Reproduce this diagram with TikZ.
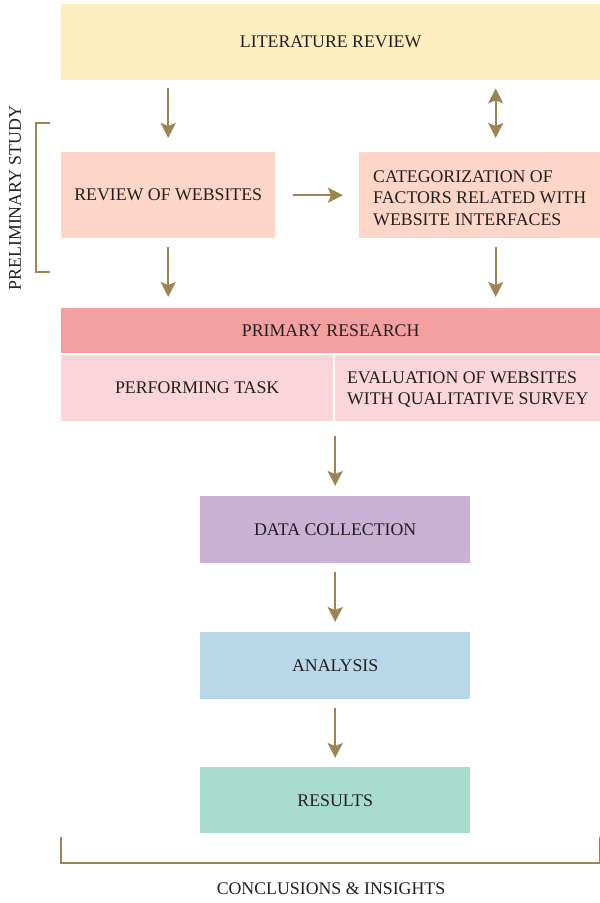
\documentclass[tikz,border=0pt]{standalone}
\usepackage{fontspec}
\setmainfont{Liberation Serif}
\usetikzlibrary{arrows.meta}
\definecolor{litc}{HTML}{FEEDBF}
\definecolor{revc}{HTML}{FDD6C8}
\definecolor{primc}{HTML}{F4A0A0}
\definecolor{subc}{HTML}{FAD5D9}
\definecolor{datac}{HTML}{C8B1D5}
\definecolor{anac}{HTML}{B8D8EA}
\definecolor{resc}{HTML}{A6DBCD}
\definecolor{arrc}{HTML}{9B8555}
\definecolor{txtc}{HTML}{231F20}
\begin{document}
\begin{tikzpicture}[x=1pt,y=-1pt,
  every node/.style={font=\fontsize{17.8}{21.5}\selectfont,text=txtc},
  box/.style={anchor=north west,inner sep=0pt,draw=none},
  arr/.style={draw=arrc,line width=2pt,-{Stealth[length=15pt,width=15pt,inset=3pt]}},
  darr/.style={draw=arrc,line width=2pt,{Stealth[length=15pt,width=15pt,inset=3pt]}-{Stealth[length=15pt,width=15pt,inset=3pt]}},
  brk/.style={draw=arrc,line width=2pt}]
\useasboundingbox (0,0) rectangle (600,903);
\node[box,fill=litc,minimum width=539pt,minimum height=76pt] (lit) at (61,4) {};
\node at (lit.center) {LITERATURE REVIEW};
\node[box,fill=revc,minimum width=214pt,minimum height=86pt] (rev) at (61,152) {};
\node at (rev.center) {REVIEW OF WEBSITES};
\node[box,fill=revc,minimum width=241pt,minimum height=86pt] (cat) at (359,152) {};
\node[align=left] at ([yshift=-3pt]cat.center) {CATEGORIZATION OF\\FACTORS RELATED WITH\\WEBSITE INTERFACES};
\node[box,fill=primc,minimum width=539pt,minimum height=45pt] (prim) at (61,308) {};
\node at (prim.center) {PRIMARY RESEARCH};
\node[box,fill=subc,minimum width=272pt,minimum height=66pt] (perf) at (61,354.5) {};
\node at (perf.center) {PERFORMING TASK};
\node[box,fill=subc,minimum width=265pt,minimum height=66pt] (eval) at (335,354.5) {};
\node[align=left] at ([yshift=-2pt]eval.center) {EVALUATION OF WEBSITES\\WITH QUALITATIVE SURVEY};
\node[box,fill=datac,minimum width=270pt,minimum height=67pt] (data) at (200,496) {};
\node at (data.center) {DATA COLLECTION};
\node[box,fill=anac,minimum width=270pt,minimum height=67pt] (ana) at (200,632) {};
\node at (ana.center) {ANALYSIS};
\node[box,fill=resc,minimum width=270pt,minimum height=66pt] (res) at (200,767) {};
\node at (res.center) {RESULTS};
% arrows
\draw[arr,shorten <=8pt,shorten >=14pt] (lit.south -| rev.north) -- (rev.north);
\draw[darr,shorten <=8pt,shorten >=14pt] ([xshift=16pt]lit.south -| cat.north) -- ([xshift=16pt]cat.north);
\draw[arr,shorten <=18pt,shorten >=16pt] (rev.east) -- (rev.east -| cat.west);
\draw[arr,shorten <=9pt,shorten >=11pt] (rev.south) -- (rev.south |- prim.north);
\draw[arr,shorten <=9pt,shorten >=11pt] ([xshift=16pt]cat.south) -- ([xshift=16pt]cat.south |- prim.north);
\coordinate (subbot) at (data.north |- perf.south);
\draw[arr,shorten <=15pt,shorten >=10pt] (subbot) -- (data.north);
\draw[arr,shorten <=9pt,shorten >=10pt] (data.south) -- (ana.north);
\draw[arr,shorten <=9pt,shorten >=9pt] (ana.south) -- (res.north);
% brackets
\draw[brk] (50,123) -- (36,123) -- (36,272) -- (50,272);
\node[rotate=90] (prelim) at (15,198) {PRELIMINARY STUDY};
\draw[brk] (61,837) -- (61,863) -- (600,863) -- (600,837);
\node (concl) at (331,889) {CONCLUSIONS \& INSIGHTS};
\end{tikzpicture}
\end{document}
